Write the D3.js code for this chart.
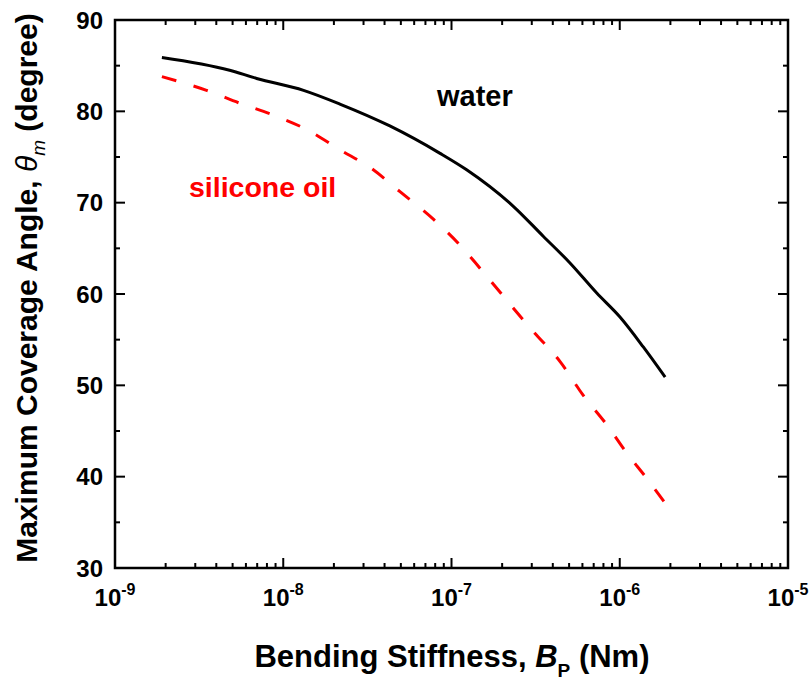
<!DOCTYPE html>
<html lang="en">
<head>
<meta charset="utf-8">
<title>Maximum Coverage Angle</title>
<script src="https://cdn.jsdelivr.net/npm/d3@7/dist/d3.min.js"></script>
<style>
  body { margin: 0; background: #fff; }
  text { font-family: "Liberation Sans", Arial, sans-serif; font-weight: bold; }
</style>
</head>
<body>
<div id="chart"></div>
<script>
// bending stiffness (Nm) and angle (degree)
let waterB = [1.9e-9, 4.8e-9, 6.95e-9, 1.32e-8, 2.17e-8, 4.3e-8, 8.55e-8, 1.23e-7, 2.33e-7, 3.52e-7, 5.06e-7, 7.3e-7, 1.0e-6, 1.38e-6, 1.86e-6]
let waterTheta = [85.9, 84.5, 83.6, 82.3, 80.8, 78.4, 75.4, 73.6, 69.6, 66.3, 63.4, 60.1, 57.5, 54.2, 50.9]

let oilB = [1.9e-9, 3.5e-9, 5.5e-9, 8.7e-9, 1.38e-8, 2.17e-8, 3.43e-8, 4.94e-8, 7.8e-8, 1.17e-7, 1.48e-7, 3.06e-7, 4.42e-7, 6.07e-7, 8.36e-7, 1.1e-6, 1.45e-6, 1.86e-6]
let oilTheta = [83.8, 82.3, 80.9, 79.6, 78.0, 75.8, 73.6, 71.2, 68.2, 65.0, 62.8, 55.9, 52.6, 48.9, 45.7, 42.6, 39.8, 37.1]

let xDecades = [-9, -8, -7, -6, -5]
let yTicks = [30, 40, 50, 60, 70, 80, 90]

let w = 812, h = 682
let pLeft = 115, pRight = 788, pTop = 20, pBottom = 568

let svg = d3.select("#chart").append("svg")
    .attr("width", w)
    .attr("height", h)

let x = d3.scaleLog().domain([1e-9, 1e-5]).range([pLeft, pRight])
let y = d3.scaleLinear().domain([30, 90]).range([pBottom, pTop])

// minor ticks: 2..9 in every decade, and every 5 degrees
let xMinor = []
for (let d = -9; d < -5; d++) {
  for (let m = 2; m <= 9; m++) xMinor.push(m * Math.pow(10, d))
}
let xMajor = xDecades.map(d => Math.pow(10, d))
let yMinor = d3.range(35, 90, 10)

let lineColor = "#000"
let frame = svg.append("g")

// ticks pointing inward on all four sides
function addTicks(vals, len, horiz) {
  vals.forEach(function(v) {
    if (horiz) {
      frame.append("line").attr("x1", x(v)).attr("x2", x(v)).attr("y1", pBottom).attr("y2", pBottom - len)
        .attr("stroke", lineColor).attr("stroke-width", 2)
      frame.append("line").attr("x1", x(v)).attr("x2", x(v)).attr("y1", pTop).attr("y2", pTop + len)
        .attr("stroke", lineColor).attr("stroke-width", 2)
    } else {
      frame.append("line").attr("x1", pLeft).attr("x2", pLeft + len).attr("y1", y(v)).attr("y2", y(v))
        .attr("stroke", lineColor).attr("stroke-width", 2)
      frame.append("line").attr("x1", pRight).attr("x2", pRight - len).attr("y1", y(v)).attr("y2", y(v))
        .attr("stroke", lineColor).attr("stroke-width", 2)
    }
  })
}
addTicks(xMajor, 10, true)
addTicks(xMinor, 5, true)
addTicks(yTicks, 10, false)
addTicks(yMinor, 5, false)

frame.append("rect")
    .attr("x", pLeft).attr("y", pTop)
    .attr("width", pRight - pLeft).attr("height", pBottom - pTop)
    .attr("fill", "none")
    .attr("stroke", lineColor)
    .attr("stroke-width", 2.5)

// tick labels
svg.append("g").selectAll("text")
    .data(yTicks)
  .enter().append("text")
    .attr("x", pLeft - 12)
    .attr("y", d => y(d))
    .attr("dy", "0.36em")
    .attr("text-anchor", "end")
    .attr("font-size", 24)
    .text(d => d)

let xl = svg.append("g").selectAll("text")
    .data(xDecades)
  .enter().append("text")
    .attr("x", d => x(Math.pow(10, d)))
    .attr("y", 606)
    .attr("text-anchor", "middle")
    .attr("font-size", 24)
xl.append("tspan").text("10")
xl.append("tspan").attr("dy", -11).attr("font-size", 16).text(d => "-" + (-d))

// curves
let line = d3.line()
    .x(d => x(d[0]))
    .y(d => y(d[1]))
    .curve(d3.curveMonotoneX)

svg.append("path")
    .datum(d3.zip(waterB, waterTheta))
    .attr("d", line)
    .attr("fill", "none")
    .attr("stroke", "#000")
    .attr("stroke-width", 3)

svg.append("path")
    .datum(d3.zip(oilB, oilTheta))
    .attr("d", line)
    .attr("fill", "none")
    .attr("stroke", "#ff0000")
    .attr("stroke-width", 3)
    .attr("stroke-dasharray", "15,18")

// labels
svg.append("text")
    .attr("x", 437).attr("y", 106)
    .attr("font-size", 29)
    .attr("fill", "#000")
    .text("water")

svg.append("text")
    .attr("x", 189).attr("y", 197)
    .attr("font-size", 28.5)
    .attr("fill", "#ff0000")
    .text("silicone oil")

// axis titles
let xt = svg.append("text")
    .attr("x", 452)
    .attr("y", 667)
    .attr("text-anchor", "middle")
    .attr("font-size", 31)
xt.append("tspan").text("Bending Stiffness, ")
xt.append("tspan").attr("font-style", "italic").text("B")
xt.append("tspan").attr("dy", 10).attr("font-size", 19).text("P")
xt.append("tspan").attr("dy", -10).text(" (Nm)")

let yt = svg.append("text")
    .attr("transform", "translate(37,288) rotate(-90)")
    .attr("text-anchor", "middle")
    .attr("font-size", 30)
yt.append("tspan").text("Maximum Coverage Angle,  ")
yt.append("tspan").attr("font-style", "italic").attr("font-weight", "normal").text("\u03b8")
yt.append("tspan").attr("dy", 8).attr("font-size", 19).attr("font-style", "italic").attr("font-weight", "normal").text("m")
yt.append("tspan").attr("dy", -8).text("  (degree)")
</script>
</body>
</html>
